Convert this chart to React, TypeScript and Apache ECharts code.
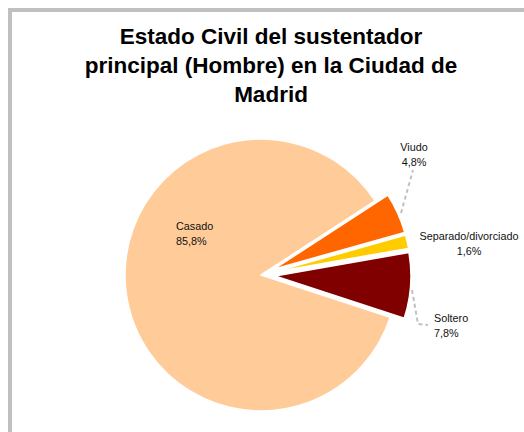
import React, { useEffect, useRef } from "react";
import * as echarts from "echarts";

const titleLines = ["Estado Civil del sustentador", "principal (Hombre) en la Ciudad de", "Madrid"];
const categories = ["Viudo", "Separado/divorciado", "Soltero", "Casado"];
const values = [4.8, 1.6, 7.8, 85.8];
const colors = ["#FF6600", "#FFCC00", "#800000", "#FFCC99"];
const exploded = [true, true, true, false];

const fmt = (v: number) => v.toFixed(1).replace(".", ",") + "%";
const FONT = "Liberation Sans, Arial, sans-serif";

export default function App() {
  const ref = useRef<HTMLDivElement>(null);
  useEffect(() => {
    if (!ref.current) return;
    document.documentElement.style.overflow = "hidden";
    document.body.style.margin = "8px 0 0 8px";
    document.body.style.overflow = "hidden";
    const chart = echarts.init(ref.current, undefined, { renderer: "svg" });
    const labelPos: Record<string, any> = {
      Viudo: { x: 402, y: 142, align: "center", line: [[389, 201], [401, 158]] },
      "Separado/divorciado": { x: 457, y: 231, align: "center", line: null },
      Soltero: { x: 422, y: 313, align: "left", line: [[400, 278], [406, 312], [416, 313]] },
      Casado: { x: 164, y: 221, align: "left", line: null },
    };
    const common = {
      type: "pie",
      center: [249, 263],
      radius: 136,
      startAngle: 33,
      clockwise: true,
      emphasis: { disabled: true },
    };
    chart.setOption({
      animation: false,
      backgroundColor: "#ffffff",
      title: {
        text: titleLines.join("\n"),
        left: 254,
        top: 5,
        textAlign: "center",
        textStyle: {
          fontFamily: FONT,
          fontSize: 22.5,
          fontWeight: "bold",
          color: "#000",
          lineHeight: 29,
        },
      },
      series: [
        {
          ...common,
          z: 2,
          selectedMode: "multiple",
          selectedOffset: 14,
          silent: true,
          itemStyle: { borderColor: "#ffffff", borderWidth: 1.5 },
          select: { itemStyle: { borderColor: "#ffffff", borderWidth: 1.5 } },
          label: { show: false },
          labelLine: { show: false },
          data: categories.map((c, i) => ({
            name: c,
            value: values[i],
            selected: exploded[i],
            itemStyle: { color: colors[i] },
          })),
        },
        {
          ...common,
          z: 3,
          silent: true,
          avoidLabelOverlap: false,
          itemStyle: { color: "transparent", borderWidth: 0 },
          label: {
            show: true,
            position: "outside",
            overflow: "none",
            formatter: (p: any) => p.name + "\n" + fmt(p.value),
            fontFamily: FONT,
            fontSize: 10.8,
            lineHeight: 15,
            color: "#111",
          },
          labelLine: {
            show: true,
            lineStyle: { color: "#c0c0c0", width: 2, type: [4, 3] },
          },
          labelLayout: (params: any) => {
            const name = categories[params.dataIndex];
            const lp = labelPos[name];
            const out: any = { x: lp.x, y: lp.y, align: lp.align, verticalAlign: "middle" };
            if (lp.line) out.labelLinePoints = lp.line;
            return out;
          },
          data: categories.map((c, i) => ({
            name: c,
            value: values[i],
            label: labelPos[c].line ? {} : { position: "inside" },
            labelLine: { show: !!labelPos[c].line },
          })),
        },
      ],
    });
    return () => chart.dispose();
  }, []);
  return (
    <div
      style={{
        width: 516,
        height: 424,
        boxSizing: "border-box",
        borderTop: "4px solid #c0c0c0",
        borderLeft: "4px solid #c0c0c0",
        background: "#fff",
      }}
    >
      <div ref={ref} style={{ width: 512, height: 420 }} />
    </div>
  );
}
